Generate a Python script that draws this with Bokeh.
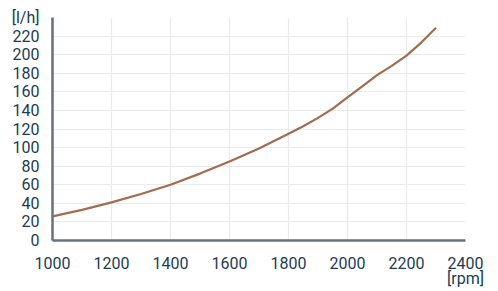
from bokeh.plotting import figure
from bokeh.models import FixedTicker, Range1d, LinearAxis
from bokeh.embed import file_html
from bokeh.resources import INLINE

rpm = [1000, 1100, 1200, 1300, 1400, 1500, 1600, 1700, 1800, 1850, 1900, 1950,
       2000, 2050, 2100, 2150, 2200, 2250, 2300]
flow = [26, 33, 41, 50, 60, 72, 85, 99, 115, 123, 132, 142,
        154, 166, 178, 188, 199, 213, 229]

x_ticks = [1000, 1200, 1400, 1600, 1800, 2000, 2200, 2400]
y_ticks = list(range(0, 241, 20))
y_label_overrides = {240: "[l/h]"}
x_unit = "[rpm]"

p = figure(width=490, height=290, output_backend="svg", toolbar_location=None,
           x_range=Range1d(1000, 2400), y_range=Range1d(0, 240),
           min_border_left=52, min_border_right=25, min_border_top=17, min_border_bottom=49)
p.outline_line_color = None
p.background_fill_color = "white"
p.border_fill_color = "white"

p.line(rpm, flow, line_color="#a36b4f", line_width=2.2, line_join="round")

unit_axis = LinearAxis(ticker=FixedTicker(ticks=[x_ticks[-1]]),
                       major_label_overrides={x_ticks[-1]: x_unit})
p.add_layout(unit_axis, "below")

for ax in (p.xaxis[0], p.yaxis[0], unit_axis):
    ax.axis_line_color = "#677180"
    ax.axis_line_width = 2.5
    ax.major_tick_line_color = None
    ax.minor_tick_line_color = None
    ax.major_label_text_color = "#1e3b4f"
    ax.major_label_text_font = "Roboto"
    ax.major_label_text_font_size = "16px"

unit_axis.axis_line_color = None
unit_axis.major_label_standoff = -9

p.xaxis[0].ticker = FixedTicker(ticks=x_ticks)
p.yaxis[0].ticker = FixedTicker(ticks=y_ticks)
p.yaxis[0].major_label_overrides = y_label_overrides
p.xaxis[0].major_label_standoff = 10
p.yaxis[0].major_label_standoff = 7

p.xgrid.ticker = FixedTicker(ticks=x_ticks)
p.ygrid.ticker = FixedTicker(ticks=y_ticks)
p.grid.grid_line_color = "#ebebeb"
p.grid.grid_line_width = 1.2

open("out.html", "w").write(file_html(p, INLINE))
